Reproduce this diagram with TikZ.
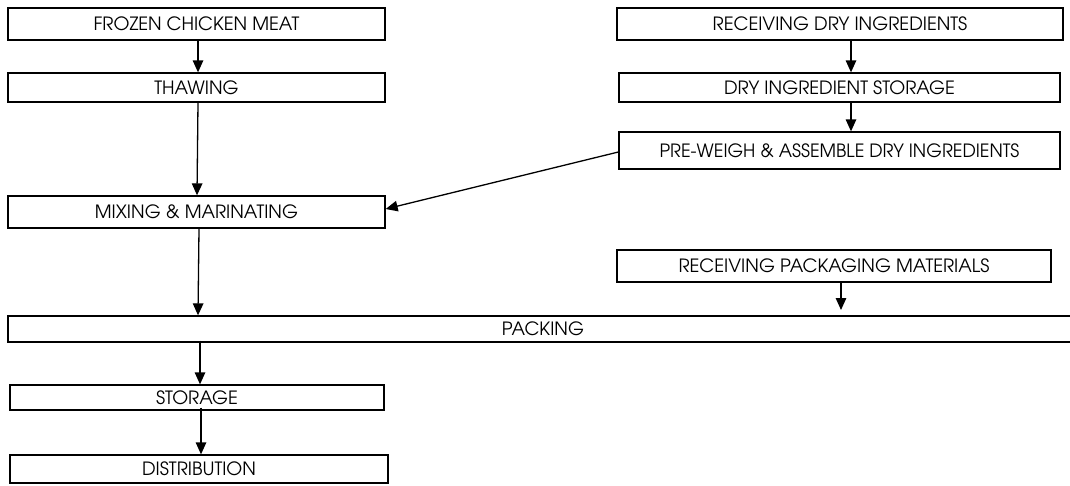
\documentclass[tikz,border=0pt]{standalone}
\usepackage{fontspec}
\setmainfont{texgyreadventor}[Extension=.otf, UprightFont=*-regular, BoldFont=*-bold]
\usetikzlibrary{arrows.meta}
\tikzset{
  box/.style={draw, line width=1.3pt, inner sep=0pt, font=\fontsize{18.3}{20}\selectfont, text=black},
  flow/.style={line width=1.3pt, -{Triangle[width=10.5pt,length=12pt]}}
}
\begin{document}
\begin{tikzpicture}[x=1pt,y=-1pt]
\useasboundingbox (0,0) rectangle (1070,485);
\node[box, minimum width=377pt, minimum height=32pt] (frozen) at (196.5,24) {FROZEN CHICKEN MEAT};
\node[box, minimum width=377pt, minimum height=29pt] (thaw) at (196.5,87.5) {THAWING};
\node[box, minimum width=377pt, minimum height=32pt] (mix) at (196.5,212) {MIXING \& MARINATING};
\node[box, minimum width=446pt, minimum height=32pt] (rdi) at (840,24) {RECEIVING DRY INGREDIENTS};
\node[box, minimum width=441pt, minimum height=29pt] (dis) at (839.5,87.5) {DRY INGREDIENT STORAGE};
\node[box, minimum width=441pt, minimum height=37pt] (pwa) at (839.5,150.5) {\scalebox{0.98}[1]{PRE-WEIGH \& ASSEMBLE DRY INGREDIENTS}};
\node[box, minimum width=434pt, minimum height=32pt] (rpm) at (834,266) {RECEIVING PACKAGING MATERIALS};
\node[box, minimum width=1070pt, minimum height=26pt] (pack) at (543,329) {PACKING};
\node[box, minimum width=374pt, minimum height=25pt] (stor) at (197,397.5) {STORAGE};
\node[box, minimum width=378pt, minimum height=28pt] (dist) at (199,469) {DISTRIBUTION};
\coordinate (rpmend) at (841,310);
\draw[flow] (frozen.south -| 198,0) -- (thaw.north -| 198,0);
\draw[flow] (thaw.south -| 198,0) -- (mix.north -| 197,0);
\draw[flow] (rdi.south -| 851,0) -- (dis.north -| 851,0);
\draw[flow] (dis.south -| 851,0) -- (pwa.north -| 851,0);
\draw[flow] (pwa.west |- 0,152) -- (mix.east |- 0,209);
\draw[flow] (mix.south -| 199,0) -- (pack.north -| 198,0);
\draw[flow] (rpm.south -| 841,0) -- (rpmend);
\draw[flow] ([yshift=2pt]pack.south -| 200,0) -- (stor.north -| 200,0);
\draw[flow] ([yshift=3pt]stor.south -| 201,0) -- (dist.north -| 201,0);
\end{tikzpicture}
\end{document}
